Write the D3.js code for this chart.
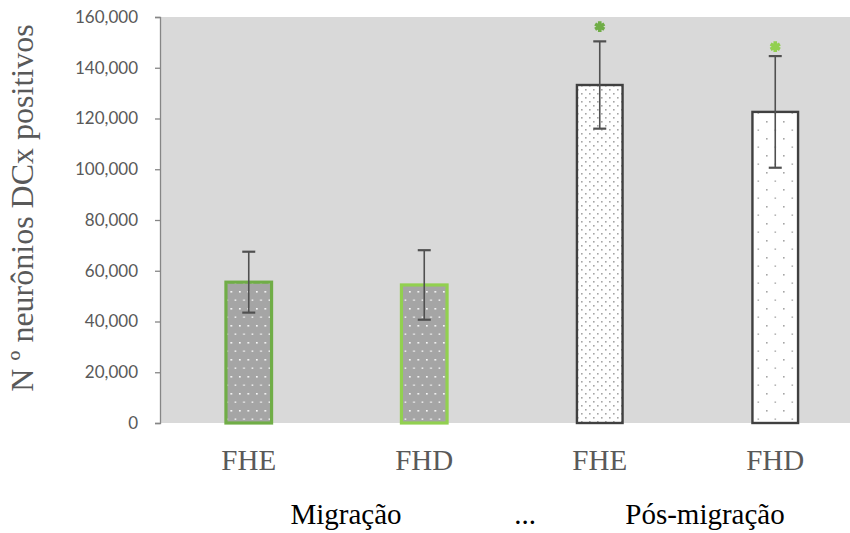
<!DOCTYPE html>
<html>
<head>
<meta charset="utf-8">
<script src="https://cdn.jsdelivr.net/npm/d3@7"></script>
<style>
  body { margin: 0; background: #fff; }
  svg { display: block; }
</style>
</head>
<body>
<script>
var width = 850;
var height = 533;

// data
var categories = ["FHE", "FHD", "FHE", "FHD"];
var means = [55500, 54400, 133200, 122600];
var errors = [12000, 13700, 17200, 22000];
var starLevel = [null, null, 156200, 148300];
var groupLabels = ["Migração", "...", "Pós-migração"];
var yTicks = [0, 20000, 40000, 60000, 80000, 100000, 120000, 140000, 160000];

var barStroke = ["#70ad47", "#92d050", "#404040", "#404040"];
var barPattern = ["dotsGrey", "dotsGrey", "dotsDense", "dotsSparse"];
var starColor = ["#70ad47", "#70ad47", "#70ad47", "#92d050"];

var plot = {left: 161, top: 17, bottom: 423};

var svg = d3.select("body").append("svg")
  .attr("width", width)
  .attr("height", height);

var defs = svg.append("defs");

// grey bar, white dots
var p1 = defs.append("pattern")
  .attr("id", "dotsGrey")
  .attr("patternUnits", "userSpaceOnUse")
  .attr("width", 8.5).attr("height", 17);
p1.append("rect").attr("width", 8.5).attr("height", 17).attr("fill", "#a5a5a5");
p1.append("rect").attr("x", 1).attr("y", 2).attr("width", 1.6).attr("height", 1.6).attr("fill", "#fff");
p1.append("rect").attr("x", 5.2).attr("y", 10.5).attr("width", 1.6).attr("height", 1.3).attr("fill", "#fff");

// white bar, dense grey dots
var p2 = defs.append("pattern")
  .attr("id", "dotsDense")
  .attr("patternUnits", "userSpaceOnUse")
  .attr("width", 8).attr("height", 8);
p2.append("rect").attr("width", 8).attr("height", 8).attr("fill", "#fff");
p2.append("rect").attr("x", 1).attr("y", 1).attr("width", 1.6).attr("height", 1.6).attr("fill", "#a6a6a6");
p2.append("rect").attr("x", 5).attr("y", 5).attr("width", 1.6).attr("height", 1.6).attr("fill", "#a6a6a6");

// white bar, sparse grey dots
var p3 = defs.append("pattern")
  .attr("id", "dotsSparse")
  .attr("patternUnits", "userSpaceOnUse")
  .attr("width", 17).attr("height", 17);
p3.append("rect").attr("width", 17).attr("height", 17).attr("fill", "#fff");
p3.append("rect").attr("x", 1).attr("y", 2).attr("width", 1.6).attr("height", 1.6).attr("fill", "#a6a6a6");
p3.append("rect").attr("x", 9.5).attr("y", 10.5).attr("width", 1.6).attr("height", 1.3).attr("fill", "#a6a6a6");

var x = d3.scaleBand()
  .domain(d3.range(categories.length))
  .range([plot.left, plot.left + 702])
  .paddingInner(0.74)
  .paddingOuter(0.37);

var y = d3.scaleLinear()
  .domain([0, 160000])
  .range([plot.bottom, plot.top]);

// plot background
svg.append("rect")
  .attr("x", plot.left)
  .attr("y", plot.top)
  .attr("width", width - plot.left)
  .attr("height", plot.bottom - plot.top)
  .attr("fill", "#d9d9d9");

// y axis
var yAxis = svg.append("g")
  .attr("transform", "translate(" + (plot.left - 1) + ",0)")
  .call(d3.axisLeft(y).tickValues(yTicks).tickSize(5).tickPadding(17).tickFormat(d3.format(",")));
yAxis.select(".domain").attr("stroke", "#868686").attr("stroke-width", 1.3);
yAxis.selectAll(".tick line").attr("stroke", "#868686").attr("stroke-width", 1.3);
yAxis.selectAll(".tick text")
  .attr("fill", "#595959")
  .style("font-family", "Lato, 'Open Sans', sans-serif")
  .style("font-size", "17px");

// bars
svg.selectAll(".bar")
  .data(means)
  .enter()
  .append("rect")
  .attr("class", "bar")
  .attr("x", function(d, i) { return x(i); })
  .attr("y", function(d) { return y(d); })
  .attr("width", x.bandwidth())
  .attr("height", function(d) { return y(0) - y(d); })
  .attr("fill", function(d, i) { return "url(#" + barPattern[i] + ")"; })
  .attr("stroke", function(d, i) { return barStroke[i]; })
  .attr("stroke-width", function(d, i) { return i < 2 ? 3.2 : 2.4; });

// error bars
var eb = svg.selectAll(".err")
  .data(means)
  .enter()
  .append("g")
  .attr("class", "err")
  .attr("stroke", "#505050")
  .attr("stroke-width", 1.6);

eb.append("line")
  .attr("x1", function(d, i) { return x(i) + x.bandwidth() / 2; })
  .attr("x2", function(d, i) { return x(i) + x.bandwidth() / 2; })
  .attr("y1", function(d, i) { return y(d + errors[i]); })
  .attr("y2", function(d, i) { return y(d - errors[i]); });

[1, -1].forEach(function(s) {
  eb.append("line")
    .attr("x1", function(d, i) { return x(i) + x.bandwidth() / 2 - 6.5; })
    .attr("x2", function(d, i) { return x(i) + x.bandwidth() / 2 + 6.5; })
    .attr("y1", function(d, i) { return y(d + s * errors[i]); })
    .attr("y2", function(d, i) { return y(d + s * errors[i]); })
    .attr("stroke-width", 2.2);
});

// significance stars
svg.selectAll(".star")
  .data(starLevel.map(function(d, i) { return {v: d, i: i}; }).filter(function(d) { return d.v !== null; }))
  .enter()
  .append("path")
  .attr("class", "star")
  .attr("d", d3.symbol().type(d3.symbolAsterisk).size(80))
  .attr("transform", function(d) {
    return "translate(" + (x(d.i) + x.bandwidth() / 2) + "," + y(d.v) + ")";
  })
  .attr("fill", "none")
  .attr("stroke", function(d) { return starColor[d.i]; })
  .attr("stroke-width", 3.6);

// category labels
svg.selectAll(".cat")
  .data(categories)
  .enter()
  .append("text")
  .attr("class", "cat")
  .attr("x", function(d, i) { return x(i) + x.bandwidth() / 2; })
  .attr("y", 470)
  .attr("text-anchor", "middle")
  .attr("fill", "#595959")
  .style("font-family", "'Liberation Serif', 'Times New Roman', serif")
  .style("font-size", "29px")
  .text(function(d) { return d; });

// group labels
var groupX = [346, 525, 705];
svg.selectAll(".grp")
  .data(groupLabels)
  .enter()
  .append("text")
  .attr("class", "grp")
  .attr("x", function(d, i) { return groupX[i]; })
  .attr("y", 524)
  .attr("text-anchor", "middle")
  .attr("fill", "#000")
  .style("font-family", "'Liberation Serif', 'Times New Roman', serif")
  .style("font-size", "29px")
  .text(function(d) { return d; });

// y axis title
svg.append("text")
  .attr("transform", "translate(33,208) rotate(-90)")
  .attr("text-anchor", "middle")
  .attr("fill", "#595959")
  .style("font-family", "'Liberation Serif', 'Times New Roman', serif")
  .style("font-size", "32px")
  .text("N º neurônios DCx positivos");
</script>
</body>
</html>
